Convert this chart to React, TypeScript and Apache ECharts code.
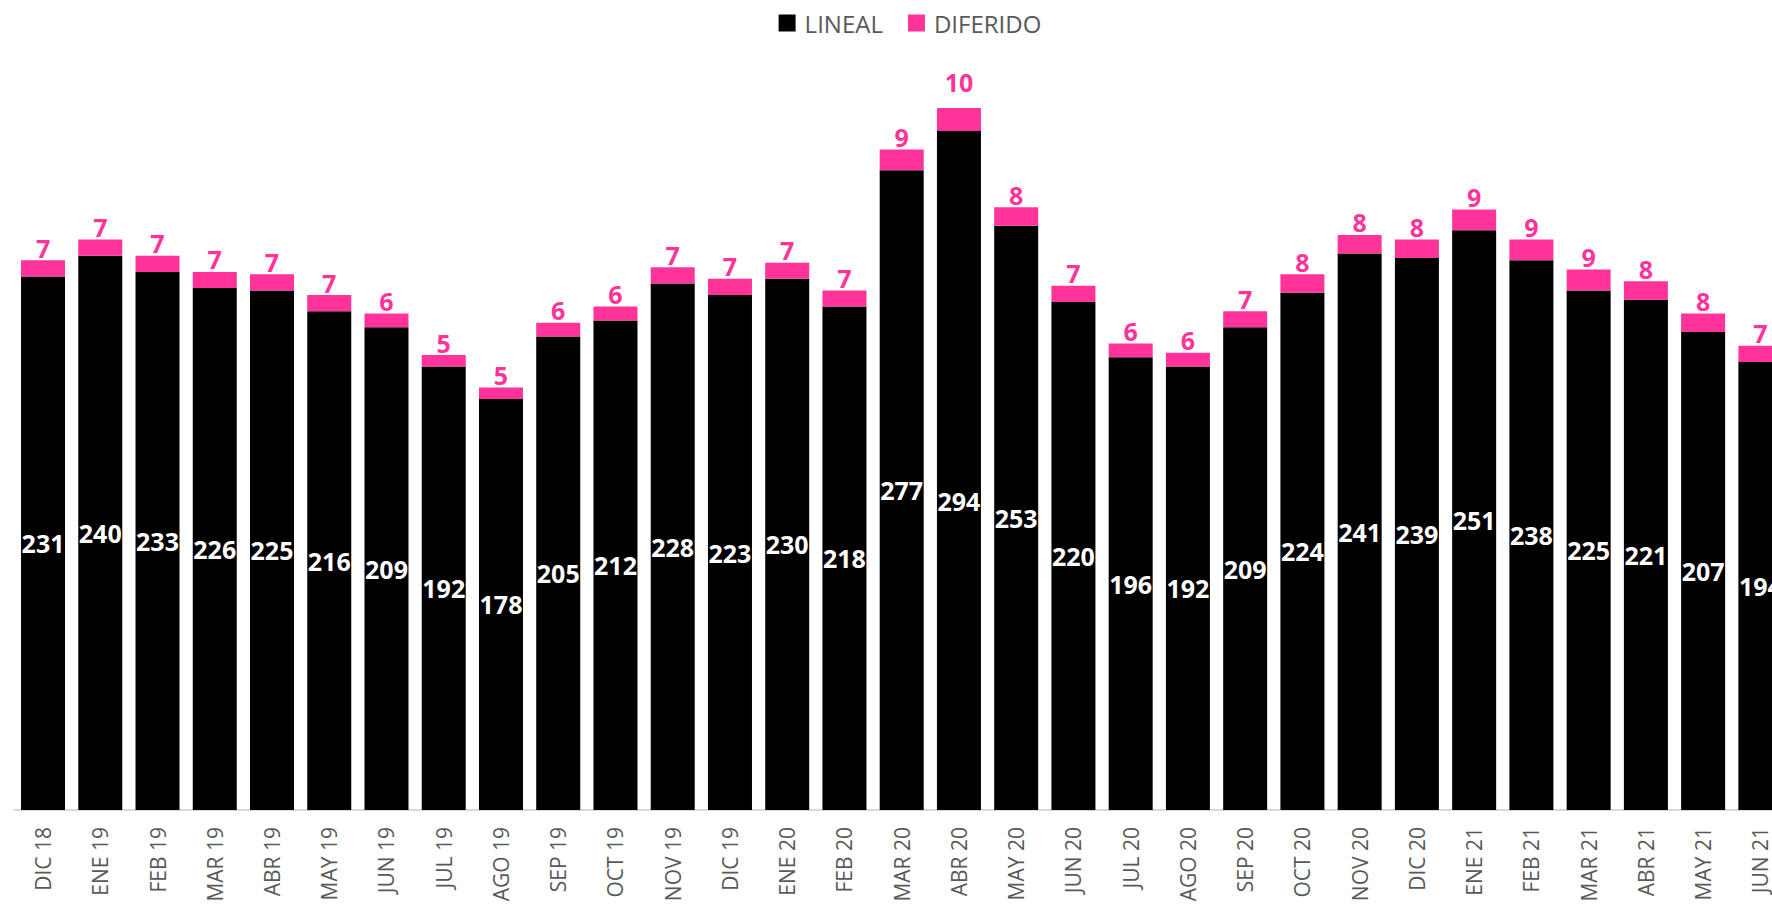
import React, { useEffect, useRef } from "react";
import * as echarts from "echarts";

const categories = [
  "DIC 18", "ENE 19", "FEB 19", "MAR 19", "ABR 19", "MAY 19", "JUN 19", "JUL 19", "AGO 19", "SEP 19",
  "OCT 19", "NOV 19", "DIC 19", "ENE 20", "FEB 20", "MAR 20", "ABR 20", "MAY 20", "JUN 20", "JUL 20",
  "AGO 20", "SEP 20", "OCT 20", "NOV 20", "DIC 20", "ENE 21", "FEB 21", "MAR 21", "ABR 21", "MAY 21", "JUN 21",
];

const lineal = [
  231, 240, 233, 226, 225, 216, 209, 192, 178, 205,
  212, 228, 223, 230, 218, 277, 294, 253, 220, 196,
  192, 209, 224, 241, 239, 251, 238, 225, 221, 207, 194,
];

const diferido = [
  7, 7, 7, 7, 7, 7, 6, 5, 5, 6,
  6, 7, 7, 7, 7, 9, 10, 8, 7, 6,
  6, 7, 8, 8, 8, 9, 9, 9, 8, 8, 7,
];

const FONT = "'Open Sans', 'Noto Sans', sans-serif";

export default function App() {
  const ref = useRef<HTMLDivElement>(null);
  useEffect(() => {
    if (!ref.current) return;
    const chart = echarts.init(ref.current, null, { renderer: "svg" });
    chart.setOption({
      animation: false,
      backgroundColor: "#ffffff",
      legend: {
        top: 6,
        left: "center",
        itemWidth: 17,
        itemHeight: 17,
        itemGap: 25,
        icon: "rect",
        textStyle: { fontSize: 24, color: "#595959", fontFamily: FONT, padding: [0, 0, 0, 4] },
        data: ["LINEAL", "DIFERIDO"],
      },
      grid: { left: 14.4, right: 31, top: 71, bottom: 98, containLabel: false },
      xAxis: {
        type: "category",
        data: categories,
        axisTick: { show: false },
        axisLine: { lineStyle: { color: "#D9D9D9", width: 2 } },
        axisLabel: { rotate: 90, color: "#595959", fontSize: 21, fontFamily: FONT, margin: 17, interval: 0 },
      },
      yAxis: {
        type: "value",
        min: 0,
        max: 320,
        show: false,
        splitLine: { show: false },
      },
      series: [
        {
          name: "LINEAL",
          type: "bar",
          stack: "total",
          barWidth: 44,
          itemStyle: { color: "#000000" },
          label: {
            show: true,
            position: "inside",
            color: "#ffffff",
            fontWeight: "bold",
            fontSize: 25,
            fontFamily: FONT,
          },
          data: lineal.map((v, i) =>
            categories[i] === "ABR 20" ? { value: v, label: { offset: [0, 30] } } : v
          ),
        },
        {
          name: "DIFERIDO",
          type: "bar",
          stack: "total",
          barWidth: 44,
          itemStyle: { color: "#FF3399" },
          label: {
            show: true,
            position: "top",
            distance: 0,
            color: "#FF3399",
            fontWeight: "bold",
            fontSize: 25,
            fontFamily: FONT,
          },
          data: diferido.map((v, i) =>
            categories[i] === "ABR 20" ? { value: v, label: { offset: [0, -13] } } : v
          ),
        },
      ],
    });
    return () => chart.dispose();
  }, []);
  return (
    <div
      ref={ref}
      style={{ position: "fixed", left: 0, top: 0, width: 1820, height: 908 }}
    />
  );
}
